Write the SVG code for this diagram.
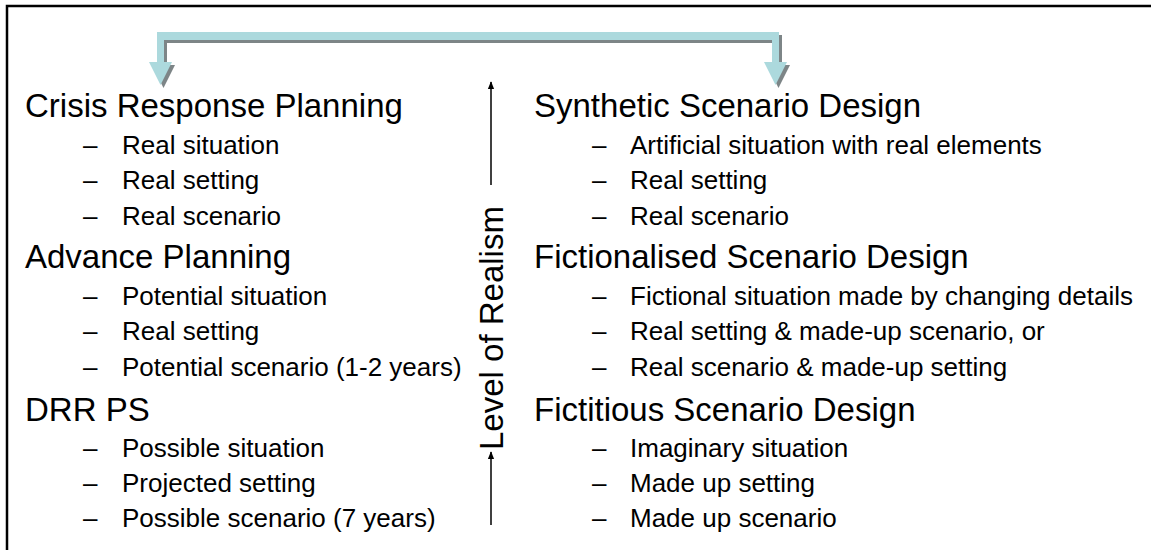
<svg xmlns="http://www.w3.org/2000/svg" width="1151" height="550" viewBox="0 0 1151 550">
<style>
.t{font-family:"Liberation Sans",Arial,sans-serif;font-size:33px;fill:#000}
.i{font-family:"Liberation Sans",Arial,sans-serif;font-size:26px;fill:#000}
.lv{font-family:"Liberation Sans",Arial,sans-serif;font-size:33px;fill:#000}
</style>
<defs>
<marker id="ah" viewBox="0 0 10 10" refX="9" refY="5" markerWidth="8" markerHeight="8" orient="auto" markerUnits="userSpaceOnUse">
<path d="M0,1 L10,5 L0,9 z" fill="#000"/>
</marker>
</defs>
<rect x="0" y="0" width="1151" height="550" fill="#fff"/>
<rect x="7" y="6" width="1200" height="600" fill="none" stroke="#000" stroke-width="2.5"/>
<g id="connectors">
<g id="bracket-shadow" transform="translate(3,3)" fill="#7d8587" stroke="none">
<path d="M157,62 V32 H779 V62 H768 L775.5,87 L783,62" fill="none"/>
<path d="M157,32 H779 V40 H164 Z"/>
<rect x="157" y="32" width="7" height="32"/>
<rect x="772" y="32" width="7" height="32"/>
<path d="M149,62 L172,62 L160.5,85 Z"/>
<path d="M764,62 L787,62 L775.5,85 Z"/>
</g>
<g id="bracket" fill="#acd9dd" stroke="none">
<path d="M157,32 H779 V40 H164 Z"/>
<rect x="157" y="32" width="7" height="32"/>
<rect x="772" y="32" width="7" height="32"/>
<path d="M149,62 L172,62 L160.5,85 Z"/>
<path d="M764,62 L787,62 L775.5,85 Z"/>
</g>
<line x1="491" y1="185" x2="491" y2="82" stroke="#000" stroke-width="1.5" marker-end="url(#ah)"/>
<line x1="491" y1="525" x2="491" y2="452" stroke="#000" stroke-width="1.5" marker-end="url(#ah)"/>
</g>
<g id="level">
<text class="lv" transform="translate(503,450) rotate(-90)">Level of Realism</text>
</g>
<g id="crisis">
<text class="t" x="25" y="117">Crisis Response Planning</text>
<text class="i" x="83" y="154">–</text><text class="i" x="122" y="154">Real situation</text>
<text class="i" x="83" y="189">–</text><text class="i" x="122" y="189">Real setting</text>
<text class="i" x="83" y="225">–</text><text class="i" x="122" y="225">Real scenario</text>
</g>
<g id="advance">
<text class="t" x="25" y="268">Advance Planning</text>
<text class="i" x="83" y="305">–</text><text class="i" x="122" y="305">Potential situation</text>
<text class="i" x="83" y="340">–</text><text class="i" x="122" y="340">Real setting</text>
<text class="i" x="83" y="376">–</text><text class="i" x="122" y="376">Potential scenario (1-2 years)</text>
</g>
<g id="drr">
<text class="t" x="25" y="421">DRR PS</text>
<text class="i" x="83" y="457">–</text><text class="i" x="122" y="457">Possible situation</text>
<text class="i" x="83" y="492">–</text><text class="i" x="122" y="492">Projected setting</text>
<text class="i" x="83" y="527">–</text><text class="i" x="122" y="527">Possible scenario (7 years)</text>
</g>
<g id="synthetic">
<text class="t" x="534" y="117">Synthetic Scenario Design</text>
<text class="i" x="592" y="154">–</text><text class="i" x="630" y="154">Artificial situation with real elements</text>
<text class="i" x="592" y="189">–</text><text class="i" x="630" y="189">Real setting</text>
<text class="i" x="592" y="225">–</text><text class="i" x="630" y="225">Real scenario</text>
</g>
<g id="fictionalised">
<text class="t" x="534" y="268">Fictionalised Scenario Design</text>
<text class="i" x="592" y="305">–</text><text class="i" x="630" y="305">Fictional situation made by changing details</text>
<text class="i" x="592" y="340">–</text><text class="i" x="630" y="340">Real setting &amp; made-up scenario, or</text>
<text class="i" x="592" y="376">–</text><text class="i" x="630" y="376">Real scenario &amp; made-up setting</text>
</g>
<g id="fictitious">
<text class="t" x="534" y="421">Fictitious Scenario Design</text>
<text class="i" x="592" y="457">–</text><text class="i" x="630" y="457">Imaginary situation</text>
<text class="i" x="592" y="492">–</text><text class="i" x="630" y="492">Made up setting</text>
<text class="i" x="592" y="527">–</text><text class="i" x="630" y="527">Made up scenario</text>
</g>
</svg>
